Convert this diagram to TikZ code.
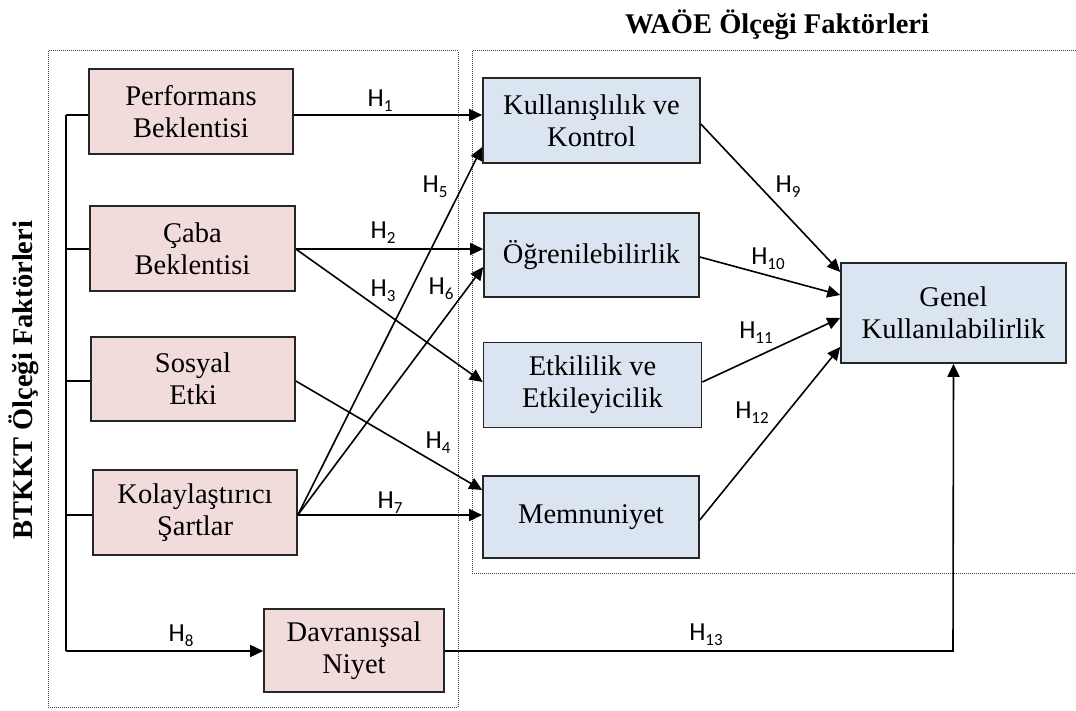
\documentclass[tikz,border=0pt]{standalone}
\usepackage{fontspec}
\setmainfont{Liberation Serif}
\newfontfamily\hfont{Carlito}
\usetikzlibrary{arrows.meta}
\definecolor{pinkfill}{HTML}{F2DCDB}
\definecolor{bluefill}{HTML}{DBE5F1}
\definecolor{edgecol}{HTML}{262626}
\newcommand\hyp[1]{{\hfont\fontsize{26}{26}\selectfont H\raisebox{-5pt}{\fontsize{17}{17}\selectfont #1}}}
\begin{document}
\begin{tikzpicture}[x=1pt,y=-1pt,
  boxbase/.style={draw=edgecol, line width=1.6pt, align=center, inner sep=0pt,
    font=\fontsize{28.5}{32}\selectfont, text=black},
  pbox/.style={boxbase, fill=pinkfill},
  bbox/.style={boxbase, fill=bluefill},
  conn/.style={draw=black, line width=1.6pt},
  arr/.style={conn, -{Triangle[length=13pt,width=12pt]}},
  frame/.style={draw=black!75, line width=1pt, dash pattern=on 1pt off 1pt},
  hl/.style={inner sep=0pt},
  ttl/.style={font=\bfseries\fontsize{28.5}{32}\selectfont}
]
\useasboundingbox (0,0) rectangle (1076,711);
\fill[white] (0,0) rectangle (1076,711);

% frames
\draw[frame] (48,51) rectangle (458,707);
\draw[frame] (1076,51) -- (472,51) -- (472,573) -- (1076,573);

% titles
\node[ttl] (t1) at (777,25) {WAÖE Ölçeği Faktörleri};
\node[ttl, rotate=90] (t2) at (24,380) {BTKKT Ölçeği Faktörleri};

% left boxes
\node[pbox, minimum width=204pt, minimum height=85pt] (perf) at (191,111.5) {Performans\\Beklentisi};
\node[pbox, minimum width=205pt, minimum height=85pt] (caba) at (192.5,248.5) {Çaba\\Beklentisi};
\node[pbox, minimum width=204pt, minimum height=84pt] (sos) at (193,379) {Sosyal\\Etki};
\node[pbox, minimum width=204pt, minimum height=85pt] (kol) at (195,512.5) {Kolaylaştırıcı\\Şartlar};
\node[pbox, minimum width=180pt, minimum height=83pt] (dav) at (354,650.5) {Davranışsal\\Niyet};

% right boxes
\node[bbox, minimum width=217pt, minimum height=85pt] (kul) at (591.5,120.5) {Kullanışlılık ve\\Kontrol};
\node[bbox, minimum width=215pt, minimum height=84pt] (ogr) at (591.5,255) {Öğrenilebilirlik};
\node[bbox, minimum width=218pt, minimum height=85pt] (etk) at (592.5,385) {Etkililik ve\\Etkileyicilik};
\node[bbox, minimum width=216pt, minimum height=82pt] (mem) at (591,517) {Memnuniyet};
\node[bbox, minimum width=225pt, minimum height=100pt] (gen) at (953.5,313) {Genel\\Kullanılabilirlik};

% helper coordinates
\coordinate (ya) at (66,115);
\coordinate (yb) at (0,249);
\coordinate (yc) at (0,381);
\coordinate (yd) at (0,515);
\coordinate (ye) at (66,651);
\coordinate (k5) at (0,147);
\coordinate (o6) at (0,267);
\coordinate (e3) at (0,382);
\coordinate (m4) at (0,490);
\coordinate (g9) at (0,272);
\coordinate (g10) at (0,295);
\coordinate (g11) at (0,318);
\coordinate (g12) at (0,347);
\coordinate (s9) at (0,124);
\coordinate (s10) at (0,257);
\coordinate (s12) at (0,520);
\coordinate (corner) at (953,651);

% left trunk
\draw[conn] (ya) -- (perf.west |- ya);
\draw[conn] (ya) -- (ye);
\draw[conn] (ya |- yb) -- (caba.west |- yb);
\draw[conn] (ya |- yc) -- (sos.west |- yc);
\draw[conn] (ya |- yd) -- (kol.west |- yd);
\draw[arr] (ye) -- (dav.west |- ye);

% hypotheses
\draw[arr] (perf.east |- ya) -- (kul.west |- ya);
\draw[arr] (caba.east |- yb) -- (ogr.west |- yb);
\draw[arr] (caba.east |- yb) -- (etk.west |- e3);
\draw[arr] (sos.east |- yc) -- (mem.west |- m4);
\draw[arr] (kol.east |- yd) -- (kul.west |- k5);
\draw[arr] (kol.east |- yd) -- (ogr.west |- o6);
\draw[arr] (kol.east |- yd) -- (mem.west |- yd);
\draw[arr] (kul.east |- s9) -- (gen.west |- g9);
\draw[arr] (ogr.east |- s10) -- (gen.west |- g10);
\draw[arr] (etk.east |- e3) -- (gen.west |- g11);
\draw[arr] (mem.east |- s12) -- (gen.west |- g12);
\draw[arr] (dav.east |- ye) -- (corner) -- (gen.south);

% labels
\node[hl] (l1) at (380,101) {\hyp{1}};
\node[hl] (l2) at (383,233) {\hyp{2}};
\node[hl] (l3) at (383,291) {\hyp{3}};
\node[hl] (l4) at (438,443) {\hyp{4}};
\node[hl] (l5) at (435,187) {\hyp{5}};
\node[hl] (l6) at (441,289) {\hyp{6}};
\node[hl] (l7) at (390,503) {\hyp{7}};
\node[hl] (l8) at (181,636) {\hyp{8}};
\node[hl] (l9) at (788,187) {\hyp{9}};
\node[hl] (l10) at (768,259) {\hyp{10}};
\node[hl] (l11) at (756,333) {\hyp{11}};
\node[hl] (l12) at (752,413) {\hyp{12}};
\node[hl] (l13) at (706,635) {\hyp{13}};
\end{tikzpicture}
\end{document}
